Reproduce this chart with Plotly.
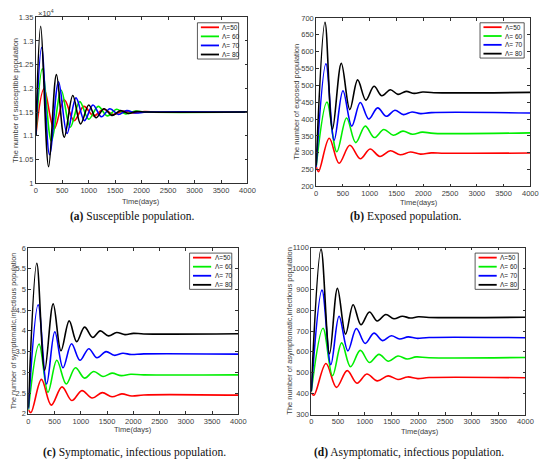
"""
Four-panel figure: SEIA-type model compartments over time for several recruitment rates (Lambda).
Values read off the reference figure at the peaks / troughs of each damped oscillation.
"""

import plotly.graph_objects as go

# ---- data -----------------------------------------------------------------
LAMBDAS = ["Λ=50", "Λ= 60", "Λ= 70", "Λ= 80"]
COLORS = ["#ff0000", "#00ee00", "#0000ff", "#000000"]

# (a) susceptible population, in units of 10^4
S50_T = [0, 155, 345, 538, 723, 909, 1094, 1280, 1465, 1650, 1840, 2050, 2300, 4000]
S50 = [1.10, 1.199, 1.114, 1.176, 1.132, 1.162, 1.142, 1.156, 1.145, 1.152, 1.148, 1.151, 1.15, 1.15]
S60_T = [0, 124, 295, 480, 650, 830, 1000, 1180, 1350, 1530, 1700, 1880, 2100, 4000]
S60 = [1.10, 1.241, 1.088, 1.196, 1.118, 1.172, 1.135, 1.162, 1.142, 1.156, 1.146, 1.152, 1.15, 1.15]
S70_T = [0, 110, 260, 430, 590, 760, 920, 1080, 1240, 1400, 1560, 1720, 1880, 2100, 4000]
S70 = [1.10, 1.286, 1.06, 1.214, 1.105, 1.18, 1.132, 1.165, 1.14, 1.157, 1.145, 1.153, 1.148, 1.15, 1.15]
S80_T = [0, 93, 242, 390, 538, 699, 847, 1001, 1138, 1290, 1440, 1600, 1750, 1900, 2100, 4000]
S80 = [1.10, 1.331, 1.035, 1.229, 1.097, 1.185, 1.125, 1.165, 1.138, 1.157, 1.143, 1.153, 1.147, 1.151, 1.15, 1.15]

# (b) exposed population
E50_T = [0, 45, 244, 427, 629, 824, 1007, 1190, 1386, 1570, 1760, 1950, 2150, 2400, 4000]
E50 = [260, 244, 343, 269, 322, 282, 311, 289, 306, 294, 302, 296, 299.5, 298.5, 299]
E60_T = [0, 201, 385, 568, 739, 916, 1087, 1264, 1440, 1620, 1800, 1980, 2200, 4000]
E60 = [258, 450, 303, 403, 330, 379, 345, 369, 352, 364, 355, 361, 357.5, 359]
E70_T = [0, 183, 336, 500, 665, 824, 983, 1148, 1310, 1470, 1630, 1790, 1950, 2150, 4000]
E70 = [258, 564, 337, 484, 379, 449, 400, 433, 408, 426, 413, 421, 416, 419, 418]
E80_T = [0, 165, 305, 470, 629, 775, 928, 1081, 1227, 1386, 1527, 1680, 1830, 1990, 2200, 4000]
E80 = [262, 687, 370, 565, 428, 516, 456, 497, 469, 487, 473, 482, 476, 480, 478, 479]

# (c) symptomatic, infectious population
I50_T = [0, 50, 249, 436, 641, 828, 1021, 1215, 1408, 1594, 1780, 1970, 2200, 4000]
I50 = [2.10, 2.03, 2.83, 2.21, 2.65, 2.32, 2.56, 2.38, 2.51, 2.41, 2.48, 2.43, 2.455, 2.45]
I60_T = [0, 205, 374, 542, 722, 897, 1071, 1246, 1420, 1594, 1770, 1950, 2200, 4000]
I60 = [2.10, 3.68, 2.52, 3.29, 2.72, 3.11, 2.86, 3.02, 2.90, 2.98, 2.92, 2.955, 2.94, 2.94]
I70_T = [0, 187, 348, 504, 660, 822, 983, 1151, 1307, 1480, 1636, 1800, 1960, 2200, 4000]
I70 = [2.12, 4.63, 2.72, 3.98, 3.11, 3.69, 3.29, 3.57, 3.35, 3.50, 3.41, 3.46, 3.43, 3.445, 3.44]
I80_T = [0, 161, 311, 473, 622, 778, 921, 1071, 1226, 1370, 1526, 1682, 1840, 2000, 2200, 4000]
I80 = [2.15, 5.63, 3.05, 4.65, 3.52, 4.24, 3.74, 4.09, 3.84, 4.00, 3.88, 3.96, 3.91, 3.94, 3.925, 3.93]

# (d) asymptomatic, infectious population
A50_T = [0, 50, 275, 470, 672, 855, 1038, 1233, 1435, 1618, 1800, 1990, 2200, 4000]
A50 = [405, 392, 544, 430, 510, 450, 494, 461, 485, 468, 480, 472, 477, 476]
A60_T = [0, 220, 397, 568, 733, 916, 1087, 1264, 1441, 1618, 1790, 1960, 2200, 4000]
A60 = [408, 713, 486, 643, 529, 607, 549, 588, 555, 580, 566, 576, 572, 573]
A70_T = [0, 201, 366, 519, 684, 843, 1007, 1172, 1331, 1496, 1649, 1810, 1970, 2200, 4000]
A70 = [410, 896, 539, 771, 605, 712, 640, 690, 654, 677, 662, 672, 665, 669, 668]
A80_T = [0, 183, 342, 489, 641, 782, 928, 1087, 1233, 1392, 1544, 1700, 1850, 2000, 2200, 4000]
A80 = [411, 1092, 591, 904, 685, 826, 730, 791, 748, 779, 759, 771, 762, 768, 765, 766]

X_TICKS = [0, 500, 1000, 1500, 2000, 2500, 3000, 3500, 4000]

# ---- layout helpers ---------------------------------------------------------
# the page body keeps its default 8px margin, so the figure is 16px smaller than the window
PAGE_W, PAGE_H, BODY_MARGIN = 550, 467, 8
W, H = PAGE_W - 2 * BODY_MARGIN, PAGE_H - 2 * BODY_MARGIN


def fx(px):
    return (px - BODY_MARGIN) / W


def fy(py):
    return 1 - (py - BODY_MARGIN) / H


TICK_FONT = dict(family="Liberation Sans, Arial", size=7.5, color="#404040")
TITLE_FONT = dict(family="Liberation Sans, Arial", size=7.5, color="#404040")
CAP_FONT = dict(family="Liberation Serif, Times New Roman", size=11.5, color="#111111")

# panel boxes in window pixels: left, top, right, bottom
PANELS = [
    dict(box=(34.3, 13.3, 250, 182.7), yr=(1.0, 1.35), dy=0.05,
         series=[(S50_T, S50), (S60_T, S60), (S70_T, S70), (S80_T, S80)],
         ytitle="The number of susceptible population", ytx=13, ytsize=7.5,
         xtitle=(142, 201), leg=(199, 19, 241, 56),
         cap="<b>(a)</b> Susceptible population.", capxy=(132, 217)),
    dict(box=(320, 14, 538.3, 186), yr=(200, 700), dy=50,
         series=[(E50_T, E50), (E60_T, E60), (E70_T, E70), (E80_T, E80)],
         ytitle="The number of exposed population", ytx=300, ytsize=7.5,
         xtitle=(425, 202), leg=(487, 19, 532, 55),
         cap="<b>(b)</b> Exposed population.", capxy=(412, 217)),
    dict(box=(26.7, 248.7, 240.7, 418), yr=(2, 6), dy=0.5,
         series=[(I50_T, I50), (I60_T, I60), (I70_T, I70), (I80_T, I80)],
         ytitle="The number of symptomatic,infectious population", ytx=11.5, ytsize=7.2,
         xtitle=(133, 434), leg=(191, 254, 234, 291),
         cap="<b>(c)</b> Symptomatic, infectious population.", capxy=(135, 457)),
    dict(box=(315, 248.3, 533.3, 418.7), yr=(300, 1100), dy=100,
         series=[(A50_T, A50), (A60_T, A60), (A70_T, A70), (A80_T, A80)],
         ytitle="The number of asymptomatic,infectious population", ytx=292, ytsize=7.5,
         xtitle=(426, 436), leg=(482, 254, 526, 291),
         cap="<b>(d)</b> Asymptomatic, infectious population.", capxy=(415, 457)),
]

fig = go.Figure()
shapes = []
annotations = []


def note(text, x, y, font, xanchor="center", **kw):
    annotations.append(dict(text=text, x=fx(x), y=fy(y), xref="paper", yref="paper",
                            xanchor=xanchor, yanchor="middle", showarrow=False, font=font, **kw))


for i, p in enumerate(PANELS, start=1):
    xa = "x" if i == 1 else f"x{i}"
    ya = "y" if i == 1 else f"y{i}"
    for (t, v), name, col in zip(p["series"], LAMBDAS, COLORS):
        fig.add_trace(go.Scatter(x=t, y=v, mode="lines", name=name, xaxis=xa, yaxis=ya,
                                 line=dict(color=col, width=1.6, shape="spline", smoothing=1.0),
                                 showlegend=False))

    l, t_, r, b = p["box"]
    axis_common = dict(showline=True, linecolor="#303030", linewidth=0.8, mirror="ticks",
                       ticks="inside", ticklen=3, tickcolor="#303030", tickwidth=0.8,
                       showgrid=False, zeroline=False, tickfont=TICK_FONT)
    y0, y1 = p["yr"]
    yticks = []
    k = 0
    while y0 + k * p["dy"] <= y1 + 1e-9:
        yticks.append(round(y0 + k * p["dy"], 4))
        k += 1
    fig.update_layout({
        ("xaxis" if i == 1 else f"xaxis{i}"): dict(
            domain=[fx(l), fx(r)], range=[0, 4000], tickvals=X_TICKS,
            anchor=ya, **axis_common),
        ("yaxis" if i == 1 else f"yaxis{i}"): dict(
            domain=[fy(b), fy(t_)], range=[y0, y1], tickvals=yticks,
            ticktext=[f"{v:g}" for v in yticks], anchor=xa, **axis_common),
    })

    # axis titles and caption
    note(p["ytitle"], p["ytx"], (t_ + b) / 2, dict(TITLE_FONT, size=p["ytsize"]), textangle=-90)
    note("Time(days)", p["xtitle"][0], p["xtitle"][1], TITLE_FONT)
    note(p["cap"], p["capxy"][0], p["capxy"][1], CAP_FONT)

    # MATLAB-style legend box
    ll, lt, lr, lb = p["leg"]
    shapes.append(dict(type="rect", xref="paper", yref="paper", x0=fx(ll), x1=fx(lr),
                       y0=fy(lb), y1=fy(lt), line=dict(color="#303030", width=0.8),
                       fillcolor="white", layer="above"))
    step = (lb - lt) / 4
    for j, (name, col) in enumerate(zip(LAMBDAS, COLORS)):
        yc = lt + step * (j + 0.5)
        shapes.append(dict(type="line", xref="paper", yref="paper", x0=fx(ll + 3.5), x1=fx(ll + 22),
                           y0=fy(yc), y1=fy(yc), line=dict(color=col, width=1.8), layer="above"))
        note(name, ll + 23.5, yc, dict(family="Liberation Sans, Arial", size=6.5, color="#202020"),
             xanchor="left")

# exponent label of panel (a)
note("×10<sup>4</sup>", 35, 9, TICK_FONT, xanchor="left")

fig.update_layout(width=W, height=H, margin=dict(l=0, r=0, t=0, b=0),
                  paper_bgcolor="white", plot_bgcolor="white",
                  shapes=shapes, annotations=annotations, showlegend=False)

fig.write_html("out.html")
